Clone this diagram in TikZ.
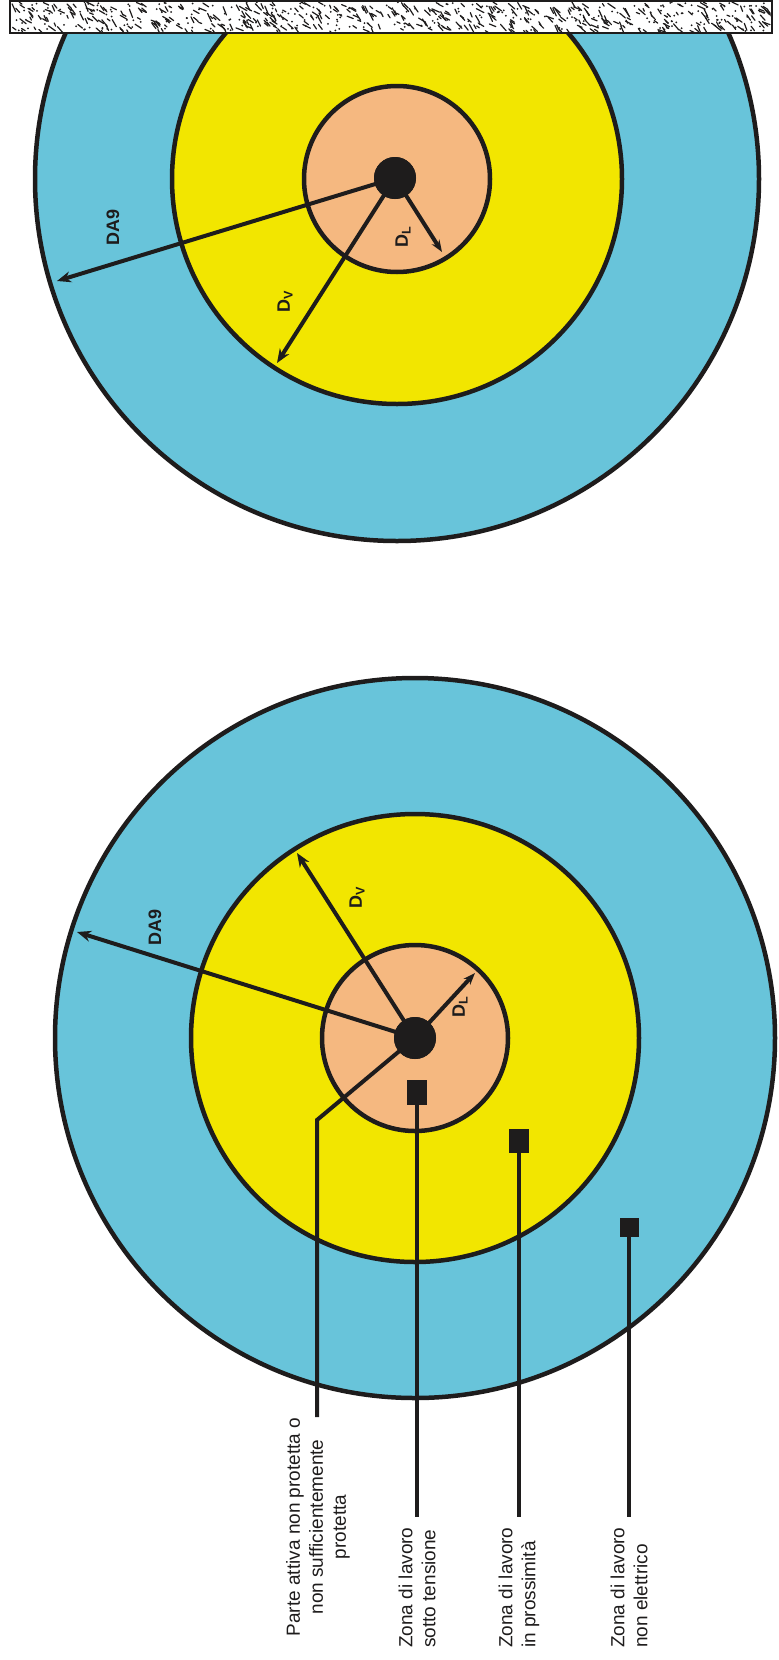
\documentclass[tikz,border=0pt]{standalone}
\usepackage{fontspec}
\setmainfont{Liberation Sans}
\usetikzlibrary{arrows.meta}
\definecolor{zblue}{RGB}{104,196,218}
\definecolor{zyellow}{RGB}{242,230,0}
\definecolor{zpeach}{RGB}{245,184,128}
\definecolor{ink}{RGB}{30,28,28}
\begin{document}
\begin{tikzpicture}[x=1pt,y=-1pt,
  ring/.style={draw=ink,line width=4.5pt},
  radiusarrow/.style={draw=ink,line width=4pt,-{Stealth[length=14pt,width=11pt]}},
  leader/.style={draw=ink,line width=4pt},
  marker/.style={fill=ink,inner sep=0pt,minimum width=20pt,minimum height=25pt},
  dimlabel/.style={font=\bfseries\fontsize{18}{20}\selectfont,rotate=90,text=ink,inner sep=0pt},
  zonelabel/.style={font=\fontsize{19}{23}\selectfont,rotate=90,text=ink,inner sep=0pt},
  livedot/.style={circle,fill=ink,minimum size=42pt,inner sep=0pt}
]
\useasboundingbox (0,0) rectangle (779,1660);

% ---------------- top diagram ----------------
\coordinate (tc) at (397,179);
\begin{scope}
  \clip (0,33) rectangle (779,1660);
  \path[ring,fill=zblue] (tc) circle[radius=362pt];
  \path[ring,fill=zyellow] (tc) circle[radius=225pt];
\end{scope}
\path[ring,fill=zpeach] (tc) circle[radius=93pt];

\coordinate (tDA) at (57,281);
\coordinate (tDV) at (277,363);
\coordinate (tDL) at (442,252);
\node[livedot] (tdot) at (395,178) {};
\draw[radiusarrow] (tdot.center) -- (tDA);
\draw[radiusarrow] (tdot.center) -- (tDV);
\draw[radiusarrow,-{Stealth[length=12pt,width=9pt]}] (tdot.center) -- (tDL);
\node[livedot] at (tdot) {};

\node[dimlabel] (tlDA) at (113,227) {DA9};
\node[dimlabel] (tlDV) at (285,302) {D\textsubscript{V}};
\node[dimlabel] (tlDL) at (403,237) {D\textsubscript{L}};

% wall
\filldraw[fill=white,draw=ink,line width=2.5pt] (10,1) rectangle (772,33);
\begin{scope}
  \clip (11.5,2.5) rectangle (770.5,31.5);
  \pgfmathsetseed{11}
  \foreach \i in {1,...,420}{
    \pgfmathsetmacro\xx{12+rnd*758}
    \pgfmathsetmacro\yy{2+rnd*29}
    \pgfmathsetmacro\aa{20+rnd*50}
    \pgfmathsetmacro\ll{3+rnd*6}
    \draw[ink,line width=1.2pt,line cap=round] (\xx,\yy) -- ++(\aa:\ll);
  }
  \foreach \i in {1,...,260}{
    \pgfmathsetmacro\xx{12+rnd*758}
    \pgfmathsetmacro\yy{2+rnd*29}
    \fill[ink] (\xx,\yy) circle[radius=1pt];
  }
\end{scope}

% ---------------- bottom diagram ----------------
\coordinate (bc) at (415,1038);
\path[ring,fill=zblue] (bc) circle[radius=360pt];
\path[ring,fill=zyellow] (bc) circle[radius=224pt];
\path[ring,fill=zpeach] (bc) circle[radius=93pt];

\coordinate (bDA) at (77,932);
\coordinate (bDV) at (297,853);
\coordinate (bDL) at (475,973);
\coordinate (bend) at (317,1120);
\coordinate (lead1) at (317,1417);
\node[livedot] (bdot) at (bc) {};
\draw[radiusarrow] (bdot.center) -- (bDA);
\draw[radiusarrow] (bdot.center) -- (bDV);
\draw[radiusarrow,-{Stealth[length=12pt,width=9pt]}] (bdot.center) -- (bDL);
\draw[leader] (bdot.center) -- (bend) -- (lead1);
\node[livedot] at (bdot) {};

\node[dimlabel] (blDA) at (155,927) {DA9};
\node[dimlabel] (blDV) at (357,898) {D\textsubscript{V}};
\node[dimlabel] (blDL) at (460,1007) {D\textsubscript{L}};

\node[marker] (m1) at (417,1092) {};
\node[marker,minimum height=24pt] (m2) at (519,1141) {};
\node[marker,minimum width=19pt,minimum height=19pt] (m3) at (629,1227) {};
\coordinate (e1) at (417,1517);
\coordinate (e2) at (519,1517);
\coordinate (e3) at (629,1517);
\draw[leader] (m1) -- (e1);
\draw[leader] (m2) -- (e2);
\draw[leader] (m3) -- (e3);

\node[zonelabel,align=center] (lab1) at (318,1527) {Parte attiva non protetta o\\non sufficientemente\\protetta};
\node[zonelabel,align=left,anchor=west] (lab2) at (417,1648) {Zona di lavoro\\sotto tensione};
\node[zonelabel,align=left,anchor=west] (lab3) at (519,1648) {Zona di lavoro\\in prossimità};
\node[zonelabel,align=left,anchor=west] (lab4) at (629,1648) {Zona di lavoro\\non elettrico};
\end{tikzpicture}
\end{document}
